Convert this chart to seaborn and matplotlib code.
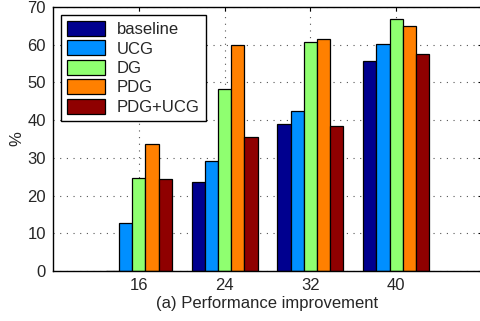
import matplotlib
matplotlib.use("Agg")
import matplotlib.pyplot as plt
import seaborn as sns
import pandas as pd

categories = ["16", "24", "32", "40"]
methods = ["baseline", "UCG", "DG", "PDG", "PDG+UCG"]
baseline = [0.0, 23.5, 39.0, 55.8]
ucg = [12.7, 29.2, 42.5, 60.2]
dg = [24.7, 48.2, 60.8, 66.8]
pdg = [33.8, 59.8, 61.5, 65.0]
pdg_ucg = [24.4, 35.5, 38.5, 57.5]
colors = ["#00008F", "#008FFF", "#8FFF70", "#FF8000", "#8F0000"]

series = [baseline, ucg, dg, pdg, pdg_ucg]
rows = []
for m, vals in zip(methods, series):
    for c, v in zip(categories, vals):
        rows.append({"cat": c, "method": m, "value": v})
df = pd.DataFrame(rows)

sns.set_style("white")
plt.rcParams["font.family"] = ["Liberation Sans", "DejaVu Sans"]

fig = plt.figure(figsize=(4.81, 3.21), dpi=100)
ax = fig.add_axes([53/481, 1 - 271/321, 429/481, 264/321])

sns.barplot(data=df, x="cat", y="value", hue="method", order=categories,
            hue_order=methods, palette=colors, width=0.77, ax=ax,
            edgecolor="black", linewidth=0.9, saturation=1, errorbar=None)

ax.set_xlim(-1, 4)
ax.set_ylim(0, 70)
ax.set_yticks(range(0, 71, 10))
ax.set_axisbelow(True)
ax.grid(True, linestyle=(0, (1, 5)), color="#555555", linewidth=0.8)
for s in ax.spines.values():
    s.set_color("black")
    s.set_linewidth(1.0)
ax.tick_params(direction="in", top=True, right=True, length=3, width=0.8,
               labelsize=12, color="black", pad=5)
ax.set_xlabel("(a) Performance improvement", fontsize=12, labelpad=2)
ax.set_ylabel("%", fontsize=12, labelpad=2)

leg = ax.legend(loc="upper left", bbox_to_anchor=(61/481, 1 - 15/321),
                bbox_transform=fig.transFigure, fancybox=False, framealpha=1,
                edgecolor="black", fontsize=12, handlelength=2.3,
                handleheight=1.0, handletextpad=0.7, labelspacing=0.2,
                borderpad=0.35, borderaxespad=0)
leg.get_frame().set_linewidth(1.0)

fig.savefig("out.png", dpi=100)
